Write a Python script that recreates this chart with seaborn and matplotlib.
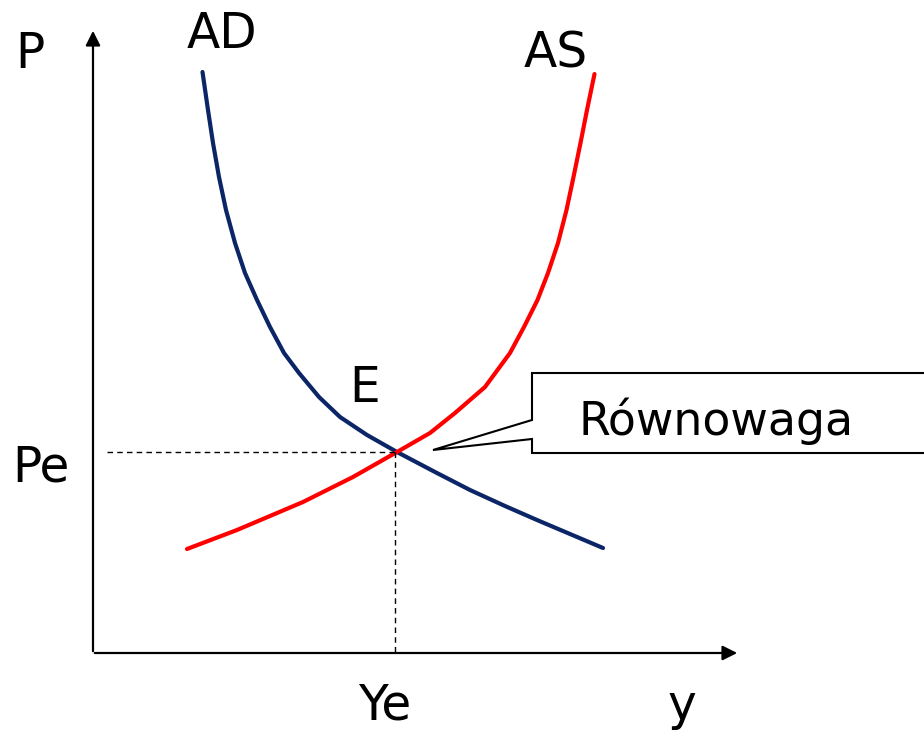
import pandas as pd
import matplotlib.pyplot as plt
import seaborn as sns
from matplotlib.patches import Polygon

# wykres AD-AS, wspolrzedne: Y (produkcja) w poziomie, P (ceny) w pionie
ad_y = [109.5, 115, 120, 126, 133, 142, 152, 164, 177, 191, 206, 226, 247, 274,
        304, 342, 377, 412, 444, 477, 510]
ad_p = [581, 543, 510, 476, 443, 410, 380, 353, 326, 300, 280, 256, 236, 218,
        201, 181, 163, 147, 133, 119, 105]

as_y = [94, 144, 177, 210, 260, 304, 337, 362, 392, 417, 431, 444.5, 455, 465,
        473.5, 480.5, 487.5, 494, 501.5]
as_p = [104, 123, 137, 151, 176, 201, 220, 240, 266, 300, 326, 353, 380, 410,
        443, 476, 510, 543, 579]

eq_y = 302
eq_p = 201

sns.set_style("white")
plt.rcParams['font.family'] = ['DejaVu Sans']
plt.rcParams['text.color'] = 'black'

fig = plt.figure(figsize=(9.24, 7.32), dpi=100)
ax = fig.add_axes([0, 0, 1, 1])
ax.set_xlim(-93, 831)
ax.set_ylim(-79, 653)
ax.axis("off")

ad = pd.DataFrame({"Y": ad_y, "P": ad_p})
as_ = pd.DataFrame({"Y": as_y, "P": as_p})
sns.lineplot(data=ad, x="Y", y="P", sort=False, color="#0b2566", lw=3, ax=ax)
sns.lineplot(data=as_, x="Y", y="P", sort=False, color="#ff0000", lw=3, ax=ax)

# osie ze strzalkami
ax.annotate("", xy=(0, 625), xytext=(0, -1),
            arrowprops=dict(arrowstyle="-|>", lw=1.6, color="black", mutation_scale=22))
ax.annotate("", xy=(647, 0), xytext=(-1, 0),
            arrowprops=dict(arrowstyle="-|>", lw=1.6, color="black", mutation_scale=22))

# linie przerywane do punktu rownowagi
ax.plot([14, eq_y], [eq_p, eq_p], ls=(0, (4, 3)), color="black", lw=1)
ax.plot([eq_y, eq_y], [eq_p, -2], ls=(0, (4, 3)), color="black", lw=1)

# dymek "Rownowaga"
callout = Polygon([(439, 280), (900, 280), (900, 200), (439, 200), (439, 214),
                   (340, 203), (439, 233)], closed=True,
                  facecolor="white", edgecolor="black", lw=1.5, zorder=5)
ax.add_patch(callout)
ax.text(623, 218, "Równowaga", fontsize=33, ha="center", va="baseline", zorder=6)

fs = 35
ax.text(-63, 585, "P", fontsize=fs, ha="center", va="baseline")
ax.text(129, 605, "AD", fontsize=fs, ha="center", va="baseline")
ax.text(463, 585, "AS", fontsize=fs, ha="center", va="baseline")
ax.text(272, 251, "E", fontsize=fs, ha="center", va="baseline")
ax.text(-52, 171, "Pe", fontsize=fs, ha="center", va="baseline")
ax.text(292, -67, "Ye", fontsize=fs, ha="center", va="baseline")
ax.text(589, -67, "y", fontsize=fs, ha="center", va="baseline")

plt.savefig("out.png", dpi=100)
